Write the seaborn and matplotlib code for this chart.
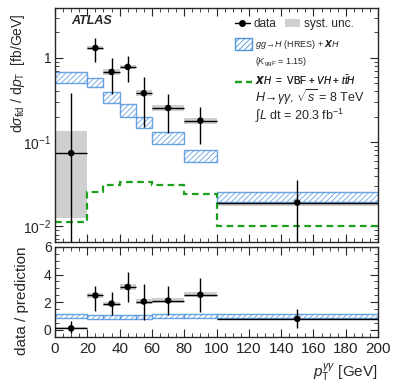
import numpy as np
import pandas as pd
import seaborn as sns
import matplotlib.pyplot as plt
from matplotlib.patches import Patch
from matplotlib.lines import Line2D
from matplotlib.ticker import FixedLocator, MultipleLocator, FuncFormatter

# bins in pT(gamma gamma) [GeV]
edges = [0, 20, 30, 40, 50, 60, 80, 100, 200]

# measured cross section [fb/GeV]
data_y = [0.074, 1.31, 0.68, 0.78, 0.38, 0.254, 0.18, 0.0192]
data_up = [0.38, 1.73, 1.0, 1.06, 0.60, 0.37, 0.26, 0.0353]
data_dn = [0.004, 0.90, 0.37, 0.52, 0.15, 0.128, 0.095, 0.004]
syst_hi = [0.135, 1.40, 0.73, 0.83, 0.41, 0.275, 0.195, 0.0196]
syst_lo = [0.0125, 1.23, 0.63, 0.73, 0.35, 0.235, 0.165, 0.0175]

# gg->H (HRes) + XH prediction band
pred_hi = [0.675, 0.58, 0.39, 0.28, 0.20, 0.132, 0.080, 0.0255]
pred_lo = [0.50, 0.45, 0.29, 0.20, 0.147, 0.095, 0.058, 0.0193]

# XH = VBF + VH + ttH
xh = [0.0112, 0.0253, 0.031, 0.0335, 0.0335, 0.031, 0.024, 0.0101]

# ratio panel
ratio_y = [0.12, 2.49, 1.9, 3.1, 2.05, 2.12, 2.54, 0.8]
ratio_up = [0.65, 3.2, 2.75, 4.15, 3.3, 3.2, 3.73, 1.5]
ratio_dn = [-0.2, 1.4, 1.05, 2.0, 0.75, 1.1, 1.3, 0.12]
rsyst_hi = [0.2, 2.65, 2.05, 3.3, 2.2, 2.3, 2.75, 0.87]
rsyst_lo = [0.05, 2.3, 1.7, 2.9, 1.85, 1.95, 2.35, 0.72]
rpred_hi = [1.17, 1.05, 1.1, 1.1, 1.1, 1.12, 1.12, 1.17]
rpred_lo = [0.88, 0.80, 0.82, 0.78, 0.78, 0.85, 0.85, 0.85]

sns.set_style("ticks")
plt.rcParams['font.family'] = ['Liberation Sans', 'DejaVu Sans']
plt.rcParams['mathtext.fontset'] = 'custom'
plt.rcParams['mathtext.rm'] = 'Liberation Sans'
plt.rcParams['mathtext.it'] = 'Liberation Sans:italic'
plt.rcParams['mathtext.bf'] = 'Liberation Sans:bold'
plt.rcParams['hatch.linewidth'] = 0.6

lo = np.array(edges[:-1], dtype=float)
hi = np.array(edges[1:], dtype=float)
w = hi - lo
ctr = (lo + hi) / 2
df = pd.DataFrame({'x': ctr, 'y': data_y, 'r': ratio_y})

blue = '#4f94dc'
green = '#1aa01a'

fig = plt.figure(figsize=(3.93, 3.82), dpi=100)
ax = fig.add_axes([0.14, 0.366, 0.822, 0.613])
axr = fig.add_axes([0.14, 0.118, 0.822, 0.236])


def draw(a, y, up, dn, shi, slo, phi, plo):
    a.bar(lo, np.array(shi) - np.array(slo), bottom=slo, width=w, align='edge',
          color='#cfcfcf', edgecolor='none', zorder=1)
    a.bar(lo, np.array(phi) - np.array(plo), bottom=plo, width=w, align='edge',
          facecolor='white', edgecolor=blue, hatch='//////', lw=1.0, alpha=0.85, zorder=2)
    a.errorbar(ctr, y, xerr=w / 2, yerr=[np.array(y) - np.array(dn), np.array(up) - np.array(y)],
               fmt='none', ecolor='black', elinewidth=1.0, zorder=3)


draw(ax, data_y, data_up, data_dn, syst_hi, syst_lo, pred_hi, pred_lo)
ax.stairs(xh, edges, color=green, ls=(0, (3, 2)), lw=1.6, baseline=None, zorder=2)
sns.scatterplot(data=df, x='x', y='y', ax=ax, color='black', s=22, edgecolor='none', zorder=4)

draw(axr, ratio_y, ratio_up, ratio_dn, rsyst_hi, rsyst_lo, rpred_hi, rpred_lo)
sns.scatterplot(data=df, x='x', y='r', ax=axr, color='black', s=22, edgecolor='none', zorder=4)

ax.set_yscale('log')
ax.set_ylim(0.0065, 3.9)
ax.set_xlim(0, 200)
axr.set_xlim(0, 200)
axr.set_ylim(-0.5, 6)

ax.yaxis.set_major_locator(FixedLocator([0.01, 0.1, 1]))
ax.yaxis.set_major_formatter(FuncFormatter(
    lambda v, p: {0.01: r'$10^{-2}$', 0.1: r'$10^{-1}$', 1: '1'}.get(round(v, 3), '')))

for a in (ax, axr):
    a.xaxis.set_major_locator(MultipleLocator(20))
    a.xaxis.set_minor_locator(MultipleLocator(5))
    a.tick_params(which='both', direction='in', top=True, right=True)
    a.tick_params(axis='x', labelsize=11)
    a.tick_params(axis='y', labelsize=10, pad=2.5)
    a.tick_params(which='major', length=6, width=0.8)
    a.tick_params(which='minor', length=3, width=0.6)
    for s in a.spines.values():
        s.set_linewidth(1.0)
axr.yaxis.set_major_locator(MultipleLocator(2))
axr.yaxis.set_minor_locator(MultipleLocator(0.5))
ax.tick_params(labelbottom=False)

ax.set_xlabel('')
ax.set_ylabel(r'd$\sigma_{\rm fid}$ / d$p_{\rm T}$  [fb/GeV]', fontsize=10, loc='top')
axr.set_ylabel('data / prediction', fontsize=11, loc='top')
axr.set_xlabel(r'$p_{\rm T}^{\gamma\gamma}$ [GeV]', fontsize=11, loc='right')
ax.yaxis.set_label_coords(-0.088, 0.975)
axr.yaxis.set_label_coords(-0.082, 1.0)

ax.text(0.05, 0.93, 'ATLAS', transform=ax.transAxes, fontsize=9,
        fontweight='bold', fontstyle='italic')

# legend, one row at a time
h_data = Line2D([], [], color='black', marker='o', markersize=4, lw=1)
h_syst = Patch(facecolor='#cfcfcf', edgecolor='none')
h_pred = Patch(facecolor='white', edgecolor=blue, hatch='//////')
h_xh = Line2D([], [], color=green, ls=(0, (3, 2)), lw=1.6)
h_none = Line2D([], [], lw=0)

rows = [
    ([h_data, h_syst], ['data', 'syst. unc.'], 0.932, 8.5, 2, 1.25, 0.7),
    ([h_pred], [r'$gg\!\rightarrow\!H$ (H$\mathrm{R}$ES) + $\boldsymbol{X}H$'], 0.844, 6.5, 1, 1.9, 1.7),
    ([h_none], [r'($K_{\rm ggF}$ = 1.15)'], 0.769, 6.5, 1, 1.9, 0.7),
    ([h_xh], [r'$\boldsymbol{X}H$  =  VBF + $VH$ + $t\bar{t}H$'], 0.692, 7, 1, 1.75, 0.7),
]
for handles, labels, ypos, fs, nc, hl, hh in rows:
    leg = ax.legend(handles, labels, ncol=nc, frameon=False, loc='center left',
                    bbox_to_anchor=(0.557, ypos), borderaxespad=0, borderpad=0,
                    fontsize=fs, handlelength=hl, handleheight=hh,
                    columnspacing=0.8, handletextpad=0.3)
    ax.add_artist(leg)

ax.text(0.619, 0.62, r'$H\!\rightarrow\!\gamma\gamma$, $\sqrt{s}$ = 8 TeV',
        transform=ax.transAxes, fontsize=9, va='center')
ax.text(0.619, 0.543, r'$\int L$ dt = 20.3 fb$^{-1}$', transform=ax.transAxes,
        fontsize=9, va='center')

fig.savefig('out.png', dpi=100)
